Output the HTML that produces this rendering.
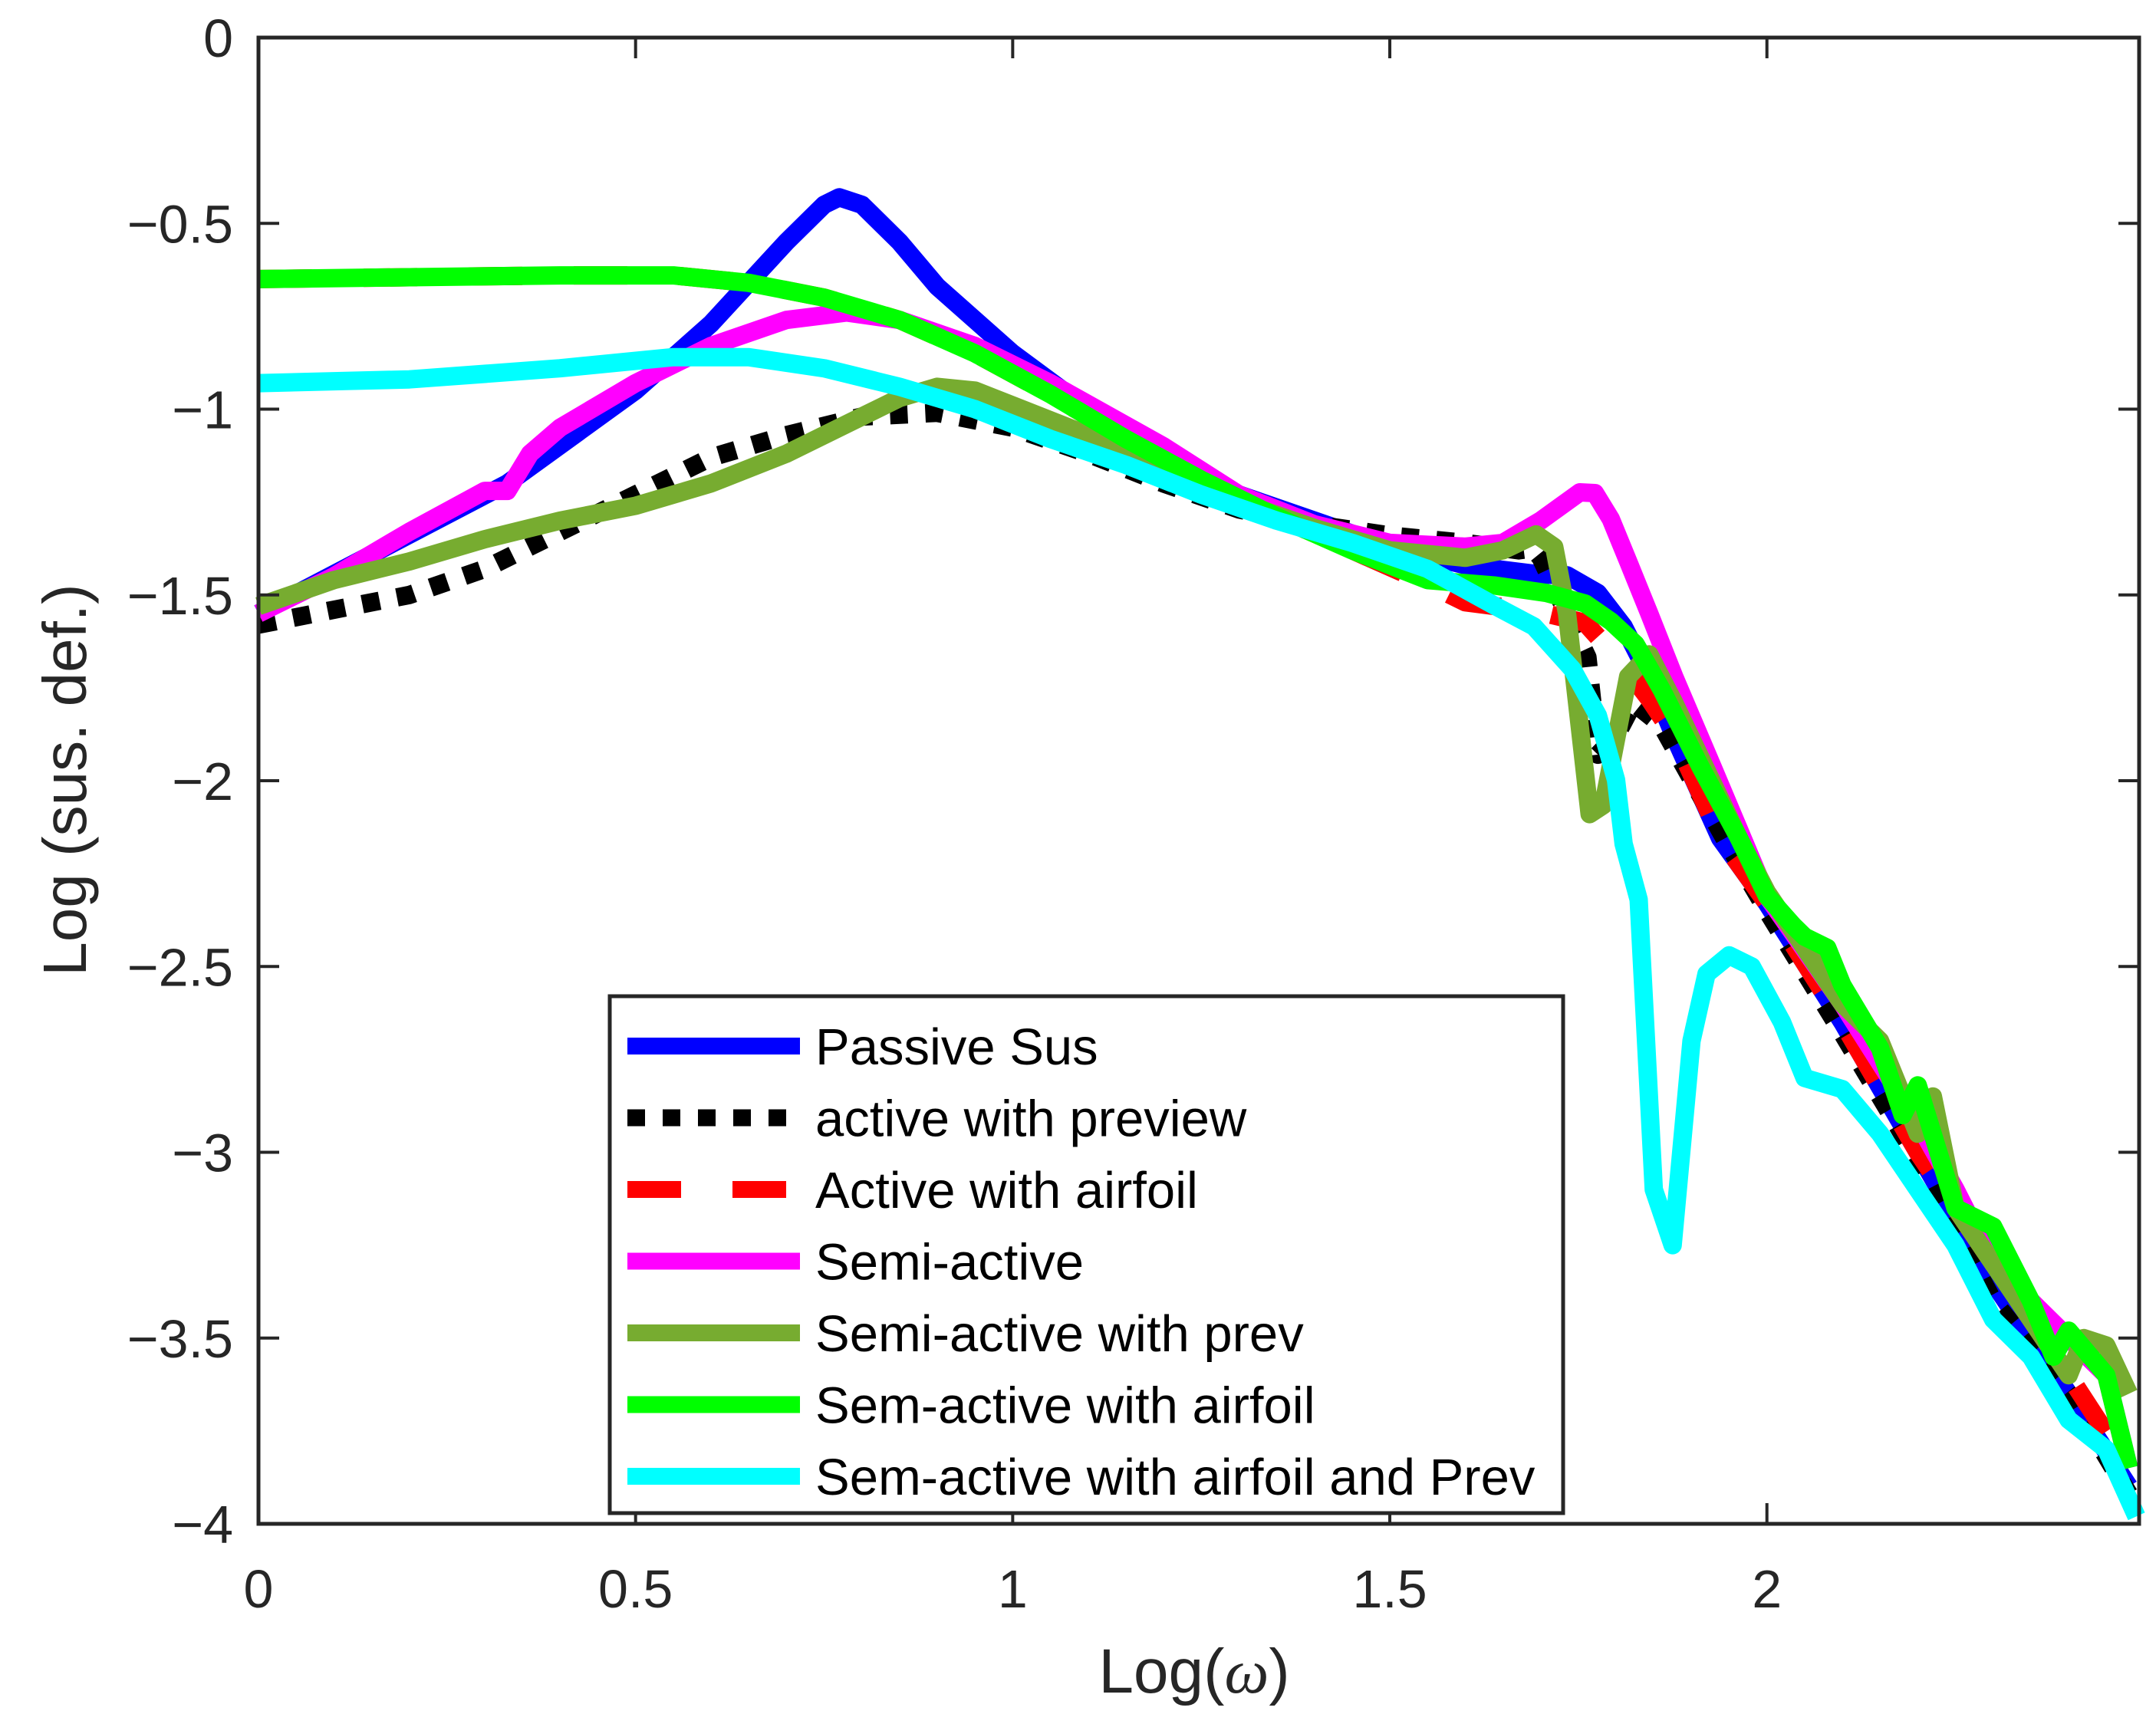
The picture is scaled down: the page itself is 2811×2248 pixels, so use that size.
<!DOCTYPE html>
<html><head><meta charset="utf-8"><style>
html,body{margin:0;padding:0;background:#fff;}
svg{display:block;font-family:"Liberation Sans",Arial,sans-serif;}
</style></head><body>
<svg id="chart" width="2811" height="2248" viewBox="0 0 2811 2248" xmlns="http://www.w3.org/2000/svg">
<rect x="0" y="0" width="2811" height="2248" fill="#fff"/>
<g id="series"></g>
<g id="axes"></g>
<g id="legend"></g>
<text x="1557" y="2207" font-size="82" text-anchor="middle" fill="#262626">Log(<tspan font-style="italic" font-family="Liberation Serif, serif">ω</tspan>)</text>
<text x="0" y="0" font-size="80" text-anchor="middle" fill="#262626" transform="translate(112,1017) rotate(-90)">Log (sus. def.)</text>
</svg>
<script>
const xTicks = [0, 0.5, 1, 1.5, 2];
const xTickLabels = ["0", "0.5", "1", "1.5", "2"];
const yTicks = [0, -0.5, -1, -1.5, -2, -2.5, -3, -3.5, -4];
const yTickLabels = ["0", "\u22120.5", "\u22121", "\u22121.5", "\u22122", "\u22122.5", "\u22123", "\u22123.5", "\u22124"];
const seriesNames = ["Passive Sus","active with preview","Active with airfoil","Semi-active","Semi-active with prev","Sem-active with airfoil","Sem-active with airfoil and Prev"];

const passiveX = [0,0.33,0.5,0.6,0.7,0.75,0.77,0.8,0.85,0.9,1.0,1.1,1.2,1.3,1.4,1.5,1.6,1.7,1.735,1.776,1.81,1.844,1.877,1.938,2.0,2.1,2.2,2.3,2.4,2.48];
const passiveY = [-1.55,-1.2,-0.95,-0.77,-0.55,-0.45,-0.43,-0.45,-0.55,-0.67,-0.85,-1.0,-1.12,-1.23,-1.3,-1.37,-1.42,-1.445,-1.447,-1.495,-1.585,-1.72,-1.88,-2.155,-2.33,-2.65,-3.0,-3.35,-3.65,-3.9];
const previewX = [0,0.1,0.2,0.3,0.4,0.5,0.6,0.7,0.8,0.9,1.0,1.1,1.2,1.3,1.4,1.5,1.6,1.671,1.69,1.70,1.762,1.776,1.80,1.823,1.86,1.945,2.0,2.1,2.2,2.3,2.4,2.48];
const previewY = [-1.58,-1.54,-1.5,-1.43,-1.33,-1.23,-1.13,-1.07,-1.02,-1.01,-1.05,-1.12,-1.2,-1.27,-1.31,-1.34,-1.36,-1.38,-1.375,-1.4,-1.668,-1.93,-1.88,-1.79,-1.85,-2.16,-2.35,-2.68,-3.02,-3.4,-3.65,-3.92];
const airfoilX = [0,0.2,0.4,0.55,0.65,0.75,0.85,0.95,1.05,1.15,1.25,1.35,1.45,1.55,1.6,1.694,1.759,1.81,1.844,1.877,1.94,2.0,2.1,2.2,2.3,2.4,2.48];
const airfoilY = [-0.65,-0.645,-0.64,-0.64,-0.66,-0.7,-0.76,-0.85,-0.96,-1.08,-1.19,-1.29,-1.38,-1.47,-1.52,-1.544,-1.575,-1.69,-1.78,-1.88,-2.16,-2.33,-2.65,-3.0,-3.3,-3.6,-3.85];
const semiX = [0,0.1,0.2,0.3,0.33,0.36,0.4,0.5,0.6,0.7,0.78,0.85,0.95,1.05,1.2,1.3,1.4,1.5,1.6,1.65,1.7,1.752,1.772,1.793,1.816,1.844,1.877,1.928,2.0,2.1,2.2,2.25,2.3,2.4,2.45,2.48];
const semiY = [-1.55,-1.45,-1.33,-1.22,-1.22,-1.12,-1.05,-0.93,-0.83,-0.76,-0.74,-0.76,-0.83,-0.93,-1.1,-1.23,-1.31,-1.36,-1.37,-1.36,-1.3,-1.224,-1.226,-1.296,-1.41,-1.55,-1.72,-1.963,-2.31,-2.6,-2.92,-3.1,-3.3,-3.5,-3.6,-3.85];
const semiPrevX = [0,0.1,0.2,0.3,0.4,0.5,0.6,0.7,0.8,0.85,0.9,0.95,1.0,1.1,1.2,1.3,1.4,1.5,1.6,1.65,1.694,1.718,1.735,1.765,1.783,1.816,1.844,1.877,1.963,2.0,2.1,2.15,2.2,2.22,2.25,2.3,2.35,2.4,2.42,2.45,2.48];
const semiPrevY = [-1.53,-1.46,-1.41,-1.35,-1.3,-1.26,-1.2,-1.12,-1.02,-0.97,-0.94,-0.95,-0.99,-1.07,-1.15,-1.25,-1.32,-1.38,-1.4,-1.38,-1.337,-1.371,-1.55,-2.09,-2.066,-1.72,-1.66,-1.79,-2.155,-2.3,-2.6,-2.7,-2.95,-2.85,-3.15,-3.3,-3.45,-3.6,-3.5,-3.52,-3.65];
const semiAirX = [0,0.2,0.4,0.55,0.65,0.75,0.85,0.95,1.05,1.15,1.25,1.35,1.45,1.55,1.64,1.708,1.759,1.793,1.826,1.861,1.912,1.963,2.0,2.035,2.05,2.08,2.1,2.15,2.18,2.2,2.25,2.3,2.35,2.38,2.4,2.45,2.48];
const semiAirY = [-0.65,-0.645,-0.64,-0.64,-0.66,-0.7,-0.76,-0.85,-0.96,-1.08,-1.19,-1.29,-1.38,-1.46,-1.475,-1.495,-1.523,-1.571,-1.633,-1.757,-1.963,-2.155,-2.31,-2.39,-2.42,-2.45,-2.55,-2.72,-2.9,-2.82,-3.15,-3.2,-3.4,-3.55,-3.48,-3.6,-3.85];
const semiAirPrevX = [0,0.2,0.4,0.55,0.65,0.75,0.85,0.95,1.05,1.15,1.25,1.35,1.45,1.55,1.64,1.691,1.742,1.776,1.80,1.81,1.83,1.85,1.875,1.9,1.92,1.95,1.98,2.02,2.05,2.1,2.15,2.2,2.25,2.3,2.35,2.4,2.45,2.49];
const semiAirPrevY = [-0.93,-0.92,-0.89,-0.86,-0.86,-0.89,-0.94,-1.0,-1.08,-1.15,-1.23,-1.3,-1.36,-1.43,-1.53,-1.585,-1.70,-1.825,-1.998,-2.17,-2.32,-3.1,-3.25,-2.7,-2.52,-2.47,-2.5,-2.65,-2.8,-2.83,-2.95,-3.1,-3.25,-3.45,-3.55,-3.72,-3.8,-3.98];

const NS="http://www.w3.org/2000/svg";
const L=337,R=2789,T=49,B=1987,XMAX=2.4935;
function sx(v){return L+(v/XMAX)*(R-L);}
function sy(v){return T+(-v/4)*(B-T);}
function mk(tag,attrs,parent){const e=document.createElementNS(NS,tag);for(const k in attrs)e.setAttribute(k,attrs[k]);parent.appendChild(e);return e;}

const series=[
 {x:passiveX,y:passiveY,c:"#0000ff",d:null,n:"passive-sus-line"},
 {x:previewX,y:previewY,c:"#000000",d:"23 23",n:"active-with-preview-line"},
 {x:airfoilX,y:airfoilY,c:"#ff0000",d:"70 67",n:"active-with-airfoil-line"},
 {x:semiX,y:semiY,c:"#ff00ff",d:null,n:"semi-active-line"},
 {x:semiPrevX,y:semiPrevY,c:"#77ac30",d:null,n:"semi-active-with-prev-line"},
 {x:semiAirX,y:semiAirY,c:"#00ff00",d:null,n:"sem-active-with-airfoil-line"},
 {x:semiAirPrevX,y:semiAirPrevY,c:"#00ffff",d:null,n:"sem-active-with-airfoil-and-prev-line"}
];
const sg=document.getElementById("series");
series.forEach(s=>{
 const pts=s.x.map((v,i)=>sx(v).toFixed(1)+","+sy(s.y[i]).toFixed(1)).join(" ");
 const p=mk("polyline",{points:pts,fill:"none",stroke:s.c,"stroke-width":"24","stroke-linejoin":"round"},sg);
 if(s.d){p.setAttribute("stroke-dasharray",s.d);p.setAttribute("stroke-linecap","butt");}
 
 
});

const ag=document.getElementById("axes");
const box=mk("rect",{x:L,y:T,width:R-L,height:B-T,fill:"none",stroke:"#262626","stroke-width":"5"},ag);


xTicks.forEach((v,i)=>{
 const x=sx(v);
 const t=mk("path",{d:`M${x},${B}V${B-27}M${x},${T}V${T+27}`,stroke:"#262626","stroke-width":"4"},ag);
 
 
 const lb=mk("text",{x:x,y:2096,"font-size":"70","text-anchor":"middle",fill:"#262626"},ag);
 lb.textContent=xTickLabels[i];
 
 
});
yTicks.forEach((v,i)=>{
 const y=sy(v);
 const t=mk("path",{d:`M${L},${y}H${L+27}M${R},${y}H${R-27}`,stroke:"#262626","stroke-width":"4"},ag);
 
 
 const lb=mk("text",{x:304,y:y+25,"font-size":"70","text-anchor":"end",fill:"#262626"},ag);
 lb.textContent=yTickLabels[i];
 
 
});

const lg=document.getElementById("legend");
const lbx=mk("rect",{x:795,y:1299,width:1243,height:674,fill:"#fff",stroke:"#262626","stroke-width":"5"},lg);


series.forEach((s,i)=>{
 const y=1364+i*93.5;
 const ln=mk("line",{x1:818,x2:1043,y1:y,y2:y,stroke:s.c,"stroke-width":"22"},lg);
 if(s.d)ln.setAttribute("stroke-dasharray",s.d);
 
 
 const tx=mk("text",{x:1063,y:y+24,"font-size":"67",fill:"#000"},lg);
 tx.textContent=seriesNames[i];
 
 
});
</script>
</body></html>
